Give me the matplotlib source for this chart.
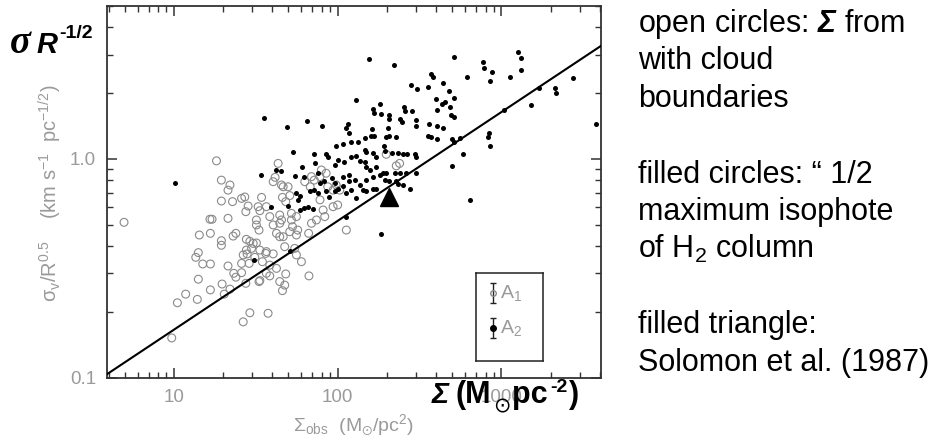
import matplotlib
matplotlib.use('Agg')
import matplotlib.pyplot as plt
from matplotlib.ticker import FixedLocator, FixedFormatter, LogLocator, NullFormatter

plt.rcParams['font.family'] = ['Liberation Sans', 'DejaVu Sans']
plt.rcParams['mathtext.fontset'] = 'custom'
plt.rcParams['mathtext.rm'] = 'Liberation Sans'
plt.rcParams['mathtext.it'] = 'Liberation Sans:italic'
plt.rcParams['mathtext.bf'] = 'Liberation Sans:italic:bold'
plt.rcParams['mathtext.sf'] = 'Liberation Sans:bold'
plt.rcParams['mathtext.default'] = 'regular'

# ---------------- data ----------------
open_sigma = [4.96, 9.7, 10.5, 11.8, 13.9, 14.1, 13.6, 14.1, 14.3, 15.0, 16.7, 16.7, 16.6, 17.1,
              16.7, 18.2, 19.5, 22.0, 21.4, 19.5, 22.8, 25.9, 21.4, 19.5, 19.5, 23.0, 23.9, 21.4,
              19.7, 22.0, 20.3, 23.2, 23.9, 25.9, 25.9, 26.5, 28.0, 28.8, 31.2, 34.7, 27.5, 33.1,
              29.1, 26.5, 37.6, 40.4, 38.5, 42.3, 33.5, 36.7, 38.5, 48.2, 44.3, 47.5, 46.0, 60.1,
              66.8, 56, 27.7, 29.1, 30.5, 31.9, 27.7, 29.8, 33.5, 36.4, 28.4, 27.5, 32.7, 33.5,
              36.7, 34.3, 31.9, 31.9, 33.1, 38.5, 40.4, 44.3, 42.3, 46.5, 47.5, 52.2, 53, 56,
              44.3, 49.8, 51, 43.3, 41.5, 40.4, 46.0, 48.2, 54.7, 36.7, 46.5, 52.2, 56, 57, 51,
              69.2, 72, 68, 79.6, 85, 87, 93.8, 98, 81.5, 83.4, 93.8, 113, 228, 239, 74.2, 69.2,
              45.4, 44.3, 198, 45.4, 78, 103, 27.1, 63, 78, 100, 66.5]
open_v = [0.513, 0.152, 0.22, 0.241, 0.228, 0.282, 0.355, 0.373, 0.449, 0.331, 0.331, 0.252, 0.53,
          0.53, 0.457, 0.98, 0.80, 0.76, 0.72, 0.642, 0.638, 0.66, 0.535, 0.423, 0.403, 0.444, 0.457,
          0.324, 0.268, 0.254, 0.241, 0.30, 0.288, 0.302, 0.333, 0.364, 0.368, 0.333, 0.355, 0.339,
          0.27, 0.275, 0.198, 0.18, 0.197, 0.368, 0.327, 0.316, 0.278, 0.30, 0.292, 0.298, 0.275,
          0.265, 0.25, 0.339, 0.292, 0.364, 0.429, 0.42, 0.411, 0.413, 0.383, 0.39, 0.383, 0.37,
          0.609, 0.574, 0.605, 0.58, 0.605, 0.667, 0.526, 0.499, 0.473, 0.545, 0.499, 0.508, 0.457,
          0.441, 0.397, 0.526, 0.49, 0.449, 0.554, 0.746, 0.68, 0.954, 0.824, 0.787, 0.667, 0.638,
          0.39, 0.377, 0.746, 0.564, 0.545, 0.473, 0.465, 0.83, 0.80, 0.746, 0.89, 0.86, 0.746,
          0.72, 0.76, 0.584, 0.545, 0.605, 0.473, 0.93, 0.954, 0.526, 0.508, 0.526, 0.441, 1.05,
          0.76, 0.83, 0.72, 0.67, 0.787, 0.65, 0.616, 0.457]

filled_sigma = [155, 220, 510, 615, 372, 380, 282, 305, 357, 440, 478, 130, 400, 510, 432, 450, 404,
                482, 164, 166, 182, 253, 259, 286, 185, 206, 207, 241, 248, 299, 302, 361, 404, 440,
                493, 510, 35.7, 49, 65, 80, 112, 116, 117, 161, 203, 146, 160, 166, 198, 207, 226,
                357, 372, 404, 500, 513, 560, 98, 108, 120, 134, 146, 150, 164, 172, 191, 195, 216,
                235, 250, 265, 295, 299, 582, 85, 87, 73, 61, 101, 96, 110, 121, 129, 136, 147, 148,
                157, 172, 188, 198, 223, 239, 260, 299, 500, 53, 72, 34, 42, 45, 55, 62, 76, 78, 82,
                92, 97, 108, 117, 118, 127, 137, 150, 164, 182, 194, 207, 226, 233, 250, 275, 56, 59,
                68, 72, 76, 85, 89, 96, 100, 108, 113, 121, 130, 143, 150, 164, 172, 640, 10.1, 39,
                50, 31, 51, 113, 185, 59, 62, 66, 71, 57, 770, 778, 880, 854, 1130, 1260, 1320, 1320,
                1690, 2110, 2160, 2730, 1520, 1030, 845, 826, 854, 3790]
filled_v = [2.85, 2.68, 2.91, 2.36, 2.44, 2.38, 2.18, 2.09, 2.14, 2.23, 2.04, 1.86, 1.88, 1.90, 1.78,
            1.82, 1.67, 1.73, 1.70, 1.62, 1.78, 1.72, 1.66, 1.66, 1.60, 1.58, 1.52, 1.52, 1.47, 1.51,
            1.42, 1.45, 1.41, 1.38, 1.59, 1.55, 1.54, 1.40, 1.49, 1.42, 1.39, 1.44, 1.31, 1.37, 1.38,
            1.25, 1.27, 1.27, 1.26, 1.27, 1.26, 1.27, 1.26, 1.23, 1.23, 1.20, 1.25, 1.14, 1.17, 1.19,
            1.19, 1.10, 1.07, 1.06, 1.02, 1.15, 1.09, 1.06, 1.06, 1.05, 1.05, 1.05, 1.02, 1.05, 1.05,
            1.02, 0.954, 0.92, 0.99, 0.94, 0.97, 1.02, 1.03, 0.98, 0.97, 0.92, 0.89, 0.92, 0.86, 0.86,
            0.865, 0.86, 0.86, 0.86, 0.93, 1.07, 1.05, 0.84, 0.89, 0.88, 0.835, 0.83, 0.86, 0.78,
            0.79, 0.815, 0.78, 0.83, 0.84, 0.79, 0.80, 0.76, 0.80, 0.83, 0.84, 0.80, 0.79, 0.795,
            0.77, 0.76, 0.73, 0.70, 0.68, 0.71, 0.72, 0.70, 0.71, 0.67, 0.71, 0.73, 0.75, 0.70, 0.72,
            0.66, 0.72, 0.71, 0.73, 0.73, 0.65, 0.78, 0.60, 0.61, 0.344, 0.38, 0.545, 0.454, 0.584,
            0.594, 0.605, 0.588, 0.65, 2.78, 2.59, 2.49, 2.28, 2.36, 3.08, 2.90, 2.55, 2.12, 2.12,
            2.01, 2.35, 1.77, 1.67, 1.31, 1.26, 1.14, 1.44]

triangle_sigma = [205]
triangle_v = [0.67]

line_sigma = [3.92, 4040]
line_v = [0.104, 3.28]

x_limits = (3.92, 4040)
y_limits = (0.1, 5.0)
x_ticks = [10, 100, 1000]
x_ticklabels = ['10', '100', '1000']
y_ticks = [0.1, 1.0]
y_ticklabels = ['0.1', '1.0']

legend_labels = ['A$_1$', 'A$_2$']

notes = ['open circles: $\\mathbf{\\Sigma}$ from', 'with cloud', 'boundaries', '',
         'filled circles: \u201c 1/2', 'maximum isophote', 'of H$_2$ column', '',
         'filled triangle:', 'Solomon et al. (1987)']

# ---------------- figure ----------------
W, H = 943, 440
fig = plt.figure(figsize=(W / 100, H / 100), dpi=100)
ax = fig.add_axes([107.3 / W, 1 - 377.7 / H, 493.4 / W, 371.7 / H])
renderer = fig.canvas.get_renderer()

GRAY_PT = '#8a8a8a'
GRAY_TXT = '#9a9a9a'

ax.scatter(open_sigma, open_v, s=32, facecolors='none', edgecolors=GRAY_PT, linewidths=0.8, zorder=2)
ax.scatter(filled_sigma, filled_v, s=13, color='black', linewidths=0, zorder=3)
ax.plot(line_sigma, line_v, color='black', lw=1.5, zorder=4)
ax.plot(triangle_sigma, triangle_v, marker='^', ms=12.5, color='black', ls='none', zorder=5)

ax.set_xscale('log')
ax.set_yscale('log')
ax.set_xlim(*x_limits)
ax.set_ylim(*y_limits)

ax.xaxis.set_major_locator(FixedLocator(x_ticks))
ax.xaxis.set_major_formatter(FixedFormatter(x_ticklabels))
ax.yaxis.set_major_locator(FixedLocator(y_ticks))
ax.yaxis.set_major_formatter(FixedFormatter(y_ticklabels))
ax.xaxis.set_minor_locator(LogLocator(base=10, subs=range(2, 10)))
ax.yaxis.set_minor_locator(LogLocator(base=10, subs=range(2, 10)))
ax.xaxis.set_minor_formatter(NullFormatter())
ax.yaxis.set_minor_formatter(NullFormatter())

ax.tick_params(which='both', direction='in', top=True, right=True, color='#333333')
ax.tick_params(which='major', length=7, width=1.1, labelsize=13.5, labelcolor=GRAY_TXT, pad=8)
ax.tick_params(which='minor', length=4, width=1.0)
for sp in ax.spines.values():
    sp.set_color('#333333')
    sp.set_linewidth(1.3)

# axis labels (gray, as in the original figure)
fig.text(50 / W, 1 - 193 / H, r'$\sigma_v/R^{0.5}$    (km s$^{-1}$  pc$^{-1/2}$)',
         rotation=90, ha='center', va='center', fontsize=14.5, color=GRAY_TXT)
fig.text(353 / W, 1 - 425 / H, r'$\Sigma_{obs}$  (M$_{\odot}$/pc$^2$)',
         ha='center', va='center', fontsize=14, color=GRAY_TXT)

# legend box with error bar keys
lax = fig.add_axes([476 / W, 1 - 361 / H, 67 / W, 88 / H])
lax.set_xlim(0, 1)
lax.set_ylim(0, 1)
lax.set_xticks([])
lax.set_yticks([])
for sp in lax.spines.values():
    sp.set_color('#222222')
    sp.set_linewidth(1.1)
lax.errorbar([0.254], [0.773], yerr=[0.114], fmt='o', ms=4, mfc='none', mec=GRAY_PT,
             ecolor='#222222', elinewidth=1.0, capsize=2.5, capthick=1.0)
lax.errorbar([0.254], [0.375], yerr=[0.108], fmt='o', ms=4, mfc='black', mec='black',
             ecolor='#222222', elinewidth=1.0, capsize=2.5, capthick=1.0)
lax.text(0.36, 0.773, legend_labels[0], ha='left', va='center', fontsize=14, color=GRAY_TXT)
lax.text(0.36, 0.375, legend_labels[1], ha='left', va='center', fontsize=14, color=GRAY_TXT)


def chain(x_px, base_px, pieces):
    """Place text pieces one after another, starting at x_px on baseline base_px."""
    x = x_px
    for text, kw, dy, gap in pieces:
        t = fig.text(x / W, 1 - (base_px + dy) / H, text, va='baseline', ha='left',
                     color='black', zorder=10, **kw)
        x += t.get_window_extent(renderer=renderer).width + gap


BOLD = dict(fontweight='bold')
BOLD_IT = dict(fontweight='bold', fontstyle='italic')

# bold overlay labels
chain(10, 53, [
    ('\u03c3', dict(fontfamily='Liberation Serif', fontsize=28, **BOLD_IT), 0, 5),
    ('R', dict(fontsize=21, **BOLD_IT), 0, 2),
    ('-1/2', dict(fontsize=14, **BOLD), -15, 0),
])
chain(432, 403, [
    ('\u03a3', dict(fontsize=21, **BOLD_IT), 0, 6),
    ('(M', dict(fontsize=22, **BOLD), 0, 2),
    ('\u2299', dict(fontfamily='DejaVu Sans', fontsize=15), 9, 2),
    ('pc', dict(fontsize=22, **BOLD), 0, 2),
    ('-2', dict(fontsize=14, **BOLD), -11, 2),
    (')', dict(fontsize=22, **BOLD), 0, 0),
])

# notes on the right
for i, line in enumerate(notes):
    if line:
        fig.text(638 / W, 1 - (31.7 + i * 37.7) / H, line, fontsize=22, va='baseline',
                 ha='left', color='black')

fig.savefig('out.png', dpi=100)
